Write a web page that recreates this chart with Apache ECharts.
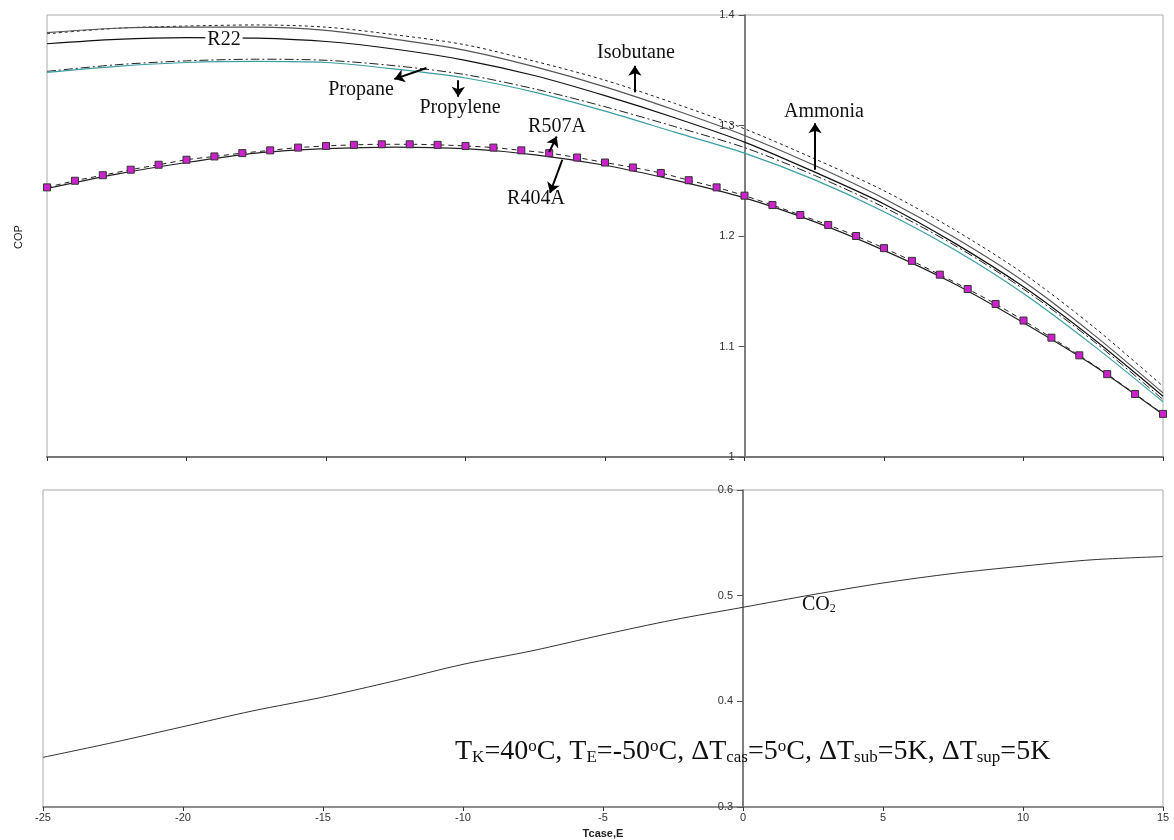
<!DOCTYPE html>
<html>
<head>
<meta charset="utf-8">
<script src="https://cdn.jsdelivr.net/npm/echarts@6/dist/echarts.min.js"></script>
<style>
  html, body { margin: 0; padding: 0; background: #fff; }
  #chart { width: 1174px; height: 840px; }
</style>
</head>
<body>
<div id="chart"></div>
<script>
// temperature steps (Tcase,E in degC)
const xStep = [-25, -22.5, -20, -17.5, -15, -12.5, -10, -7.5, -5, -2.5, 0, 2.5, 5, 7.5, 10, 12.5, 15];
const xDeg = [-25, -24, -23, -22, -21, -20, -19, -18, -17, -16, -15, -14, -13, -12, -11, -10, -9, -8, -7, -6,
  -5, -4, -3, -2, -1, 0, 1, 2, 3, 4, 5, 6, 7, 8, 9, 10, 11, 12, 13, 14, 15];

// COP, upper panel
const isobutane = [1.383, 1.388, 1.390, 1.391, 1.389, 1.382, 1.373, 1.358, 1.341, 1.320, 1.297, 1.270, 1.241, 1.206, 1.166, 1.118, 1.064];
const ammonia   = [1.384, 1.388, 1.389, 1.389, 1.386, 1.378, 1.368, 1.353, 1.335, 1.314, 1.291, 1.264, 1.234, 1.199, 1.159, 1.111, 1.058];
const r22       = [1.374, 1.378, 1.3795, 1.379, 1.376, 1.369, 1.359, 1.345, 1.327, 1.307, 1.285, 1.258, 1.229, 1.194, 1.154, 1.107, 1.055];
const propane   = [1.349, 1.355, 1.3585, 1.360, 1.359, 1.354, 1.346, 1.333, 1.317, 1.299, 1.280, 1.255, 1.226, 1.192, 1.152, 1.105, 1.052];
const propylene = [1.348, 1.3535, 1.357, 1.358, 1.357, 1.351, 1.343, 1.330, 1.313, 1.294, 1.275, 1.251, 1.222, 1.188, 1.148, 1.101, 1.050];
const r404a     = [1.243, 1.256, 1.2665, 1.275, 1.279, 1.2805, 1.279, 1.2735, 1.264, 1.2505, 1.2345, 1.213, 1.187, 1.157, 1.1215, 1.083, 1.0385];
const r507a = [1.244, 1.250, 1.255, 1.260, 1.2645, 1.269, 1.272, 1.275, 1.2775, 1.280, 1.2815, 1.2825, 1.283, 1.283,
  1.2825, 1.2815, 1.280, 1.2775, 1.275, 1.271, 1.2665, 1.262, 1.257, 1.2505, 1.244, 1.2365, 1.228, 1.219, 1.210,
  1.200, 1.189, 1.1775, 1.165, 1.152, 1.1385, 1.1235, 1.108, 1.092, 1.075, 1.057, 1.039];

// COP, lower panel
const co2 = [0.347, 0.361, 0.376, 0.391, 0.404, 0.419, 0.435, 0.448, 0.463, 0.477, 0.489, 0.501, 0.512, 0.521, 0.528, 0.534, 0.537];

const pairs = (xs, ys) => xs.map((x, i) => [x, ys[i]]);

// arrows from curve to label: [x1, y1, x2, y2] in data units
const arrows = [
  [-3.93, 1.330, -3.93, 1.354],   // Isobutane
  [2.53, 1.260, 2.53, 1.302],     // Ammonia
  [-11.4, 1.352, -12.55, 1.342],  // Propane
  [-10.26, 1.341, -10.26, 1.326], // Propylene
  [-7.0, 1.276, -6.73, 1.290],    // R507A
  [-6.53, 1.269, -6.97, 1.239]    // R404A
];

const chart = echarts.init(document.getElementById('chart'));

const serif = 'Liberation Serif, Times New Roman, serif';
const sans = 'Liberation Sans, Arial, sans-serif';

function lineSeries(name, xs, ys, color, type, width, grid) {
  return {
    name: name,
    type: 'line',
    xAxisIndex: grid,
    yAxisIndex: grid,
    data: pairs(xs, ys),
    smooth: 0.3,
    showSymbol: false,
    symbol: 'none',
    lineStyle: { color: color, type: type, width: width },
    z: 3
  };
}

const axisLabelStyle = { color: '#333', fontSize: 11, fontFamily: sans };

const option = {
  animation: false,
  backgroundColor: '#fff',
  grid: [
    { left: 47, right: 11, top: 15, height: 442, show: true, borderColor: '#aaa', borderWidth: 1 },
    { left: 43, right: 11, top: 490, height: 317, show: true, borderColor: '#aaa', borderWidth: 1 }
  ],
  xAxis: [
    {
      type: 'value', gridIndex: 0, min: -25, max: 15, interval: 5,
      axisLine: { lineStyle: { color: '#777', width: 2 } },
      axisTick: { show: true, length: 4, lineStyle: { color: '#333' } },
      axisLabel: { show: false },
      splitLine: { show: false }
    },
    {
      type: 'value', gridIndex: 1, min: -25, max: 15, interval: 5,
      axisLine: { lineStyle: { color: '#777', width: 1.5 } },
      axisTick: { show: true, length: 4, lineStyle: { color: '#333' } },
      axisLabel: Object.assign({ margin: 5 }, axisLabelStyle),
      splitLine: { show: false },
      name: 'Tcase,E',
      nameLocation: 'middle',
      nameGap: 21,
      nameTextStyle: { fontSize: 11, fontWeight: 'bold', fontFamily: sans, color: '#222' }
    }
  ],
  yAxis: [
    {
      // drawn at Tcase,E = 0
      type: 'value', gridIndex: 0, min: 1, max: 1.4, interval: 0.1,
      offset: -697.5,
      axisLine: { onZero: false, lineStyle: { color: '#555', width: 1.5 } },
      axisTick: { show: true, length: 6, lineStyle: { color: '#555' } },
      axisLabel: Object.assign({ margin: 10 }, axisLabelStyle),
      splitLine: { show: false }
    },
    {
      type: 'value', gridIndex: 1, min: 0.3, max: 0.6, interval: 0.1,
      offset: -700,
      axisLine: { onZero: false, lineStyle: { color: '#555', width: 1.5 } },
      axisTick: { show: true, length: 6, lineStyle: { color: '#555' } },
      axisLabel: Object.assign({ margin: 10, formatter: v => v.toFixed(1) }, axisLabelStyle),
      splitLine: { show: false }
    }
  ],
  series: [
    lineSeries('Isobutane', xStep, isobutane, '#222', [3, 3], 1, 0),
    lineSeries('Ammonia', xStep, ammonia, '#555', 'solid', 1.2, 0),
    lineSeries('R22', xStep, r22, '#111', 'solid', 1.2, 0),
    lineSeries('Propane', xStep, propane, '#222', [9, 3, 2, 3], 1, 0),
    lineSeries('Propylene', xStep, propylene, '#3a9ea3', 'solid', 1.2, 0),
    Object.assign(lineSeries('R404A', xStep, r404a, '#222', 'solid', 1.2, 0), {
      markLine: {
        silent: true,
        symbol: ['none', 'arrow'],
        symbolSize: 10,
        label: { show: false },
        lineStyle: { color: '#000', width: 2, type: 'solid' },
        data: arrows.map(a => [{ coord: [a[0], a[1]] }, { coord: [a[2], a[3]] }])
      }
    }),
    {
      name: 'R507A',
      type: 'line',
      xAxisIndex: 0,
      yAxisIndex: 0,
      data: pairs(xDeg, r507a),
      smooth: 0.3,
      symbol: 'rect',
      symbolSize: 7,
      showSymbol: true,
      itemStyle: { color: '#cc22cc', borderColor: '#333', borderWidth: 1 },
      lineStyle: { color: '#222', type: [5, 4], width: 1 },
      z: 4
    },
    lineSeries('CO2', xStep, co2, '#333', 'solid', 1, 1)
  ],
  graphic: [
    { type: 'text', x: 19, y: 237, rotation: Math.PI / 2,
      style: { text: 'COP', font: '11px ' + sans, fill: '#222', textAlign: 'center', textVerticalAlign: 'middle' } },
    { type: 'text', x: 224, y: 40, z: 10,
      style: { text: 'R22', font: '20px ' + serif, fill: '#111', textAlign: 'center', textVerticalAlign: 'middle',
        backgroundColor: '#fff', padding: [0, 2] } },
    { type: 'text', x: 636, y: 53, z: 10,
      style: { text: 'Isobutane', font: '20px ' + serif, fill: '#111', textAlign: 'center', textVerticalAlign: 'middle' } },
    { type: 'text', x: 824, y: 112, z: 10,
      style: { text: 'Ammonia', font: '20px ' + serif, fill: '#111', textAlign: 'center', textVerticalAlign: 'middle' } },
    { type: 'text', x: 361, y: 90, z: 10,
      style: { text: 'Propane', font: '20px ' + serif, fill: '#111', textAlign: 'center', textVerticalAlign: 'middle' } },
    { type: 'text', x: 460, y: 108, z: 10,
      style: { text: 'Propylene', font: '20px ' + serif, fill: '#111', textAlign: 'center', textVerticalAlign: 'middle' } },
    { type: 'text', x: 557, y: 127, z: 10,
      style: { text: 'R507A', font: '20px ' + serif, fill: '#111', textAlign: 'center', textVerticalAlign: 'middle' } },
    { type: 'text', x: 536, y: 199, z: 10,
      style: { text: 'R404A', font: '20px ' + serif, fill: '#111', textAlign: 'center', textVerticalAlign: 'middle' } },
    { type: 'text', x: 802, y: 605, z: 10,
      style: {
        text: '{t|CO}{sb|2}',
        textVerticalAlign: 'middle',
        rich: {
          t: { font: '20px ' + serif, fill: '#111', lineHeight: 20, verticalAlign: 'middle' },
          sb: { font: '12px ' + serif, fill: '#111', lineHeight: 12, verticalAlign: 'bottom' }
        }
      } },
    { type: 'text', x: 455, y: 752, z: 10,
      style: {
        text: '{t|T}{sb|K}{t|=40}{sp|o}{t|C, T}{sb|E}{t|=-50}{sp|o}{t|C, ΔT}{sb|cas}{t|=5}{sp|o}{t|C, ΔT}{sb|sub}{t|=5K, ΔT}{sb|sup}{t|=5K}',
        textVerticalAlign: 'middle',
        rich: {
          t: { font: '28px ' + serif, fill: '#111', lineHeight: 28, verticalAlign: 'middle' },
          sb: { font: '17px ' + serif, fill: '#111', lineHeight: 17, verticalAlign: 'bottom' },
          sp: { font: '17px ' + serif, fill: '#111', lineHeight: 17, verticalAlign: 'top' }
        },
        lineHeight: 36
      } }
  ]
};

chart.setOption(option);
</script>
</body>
</html>
